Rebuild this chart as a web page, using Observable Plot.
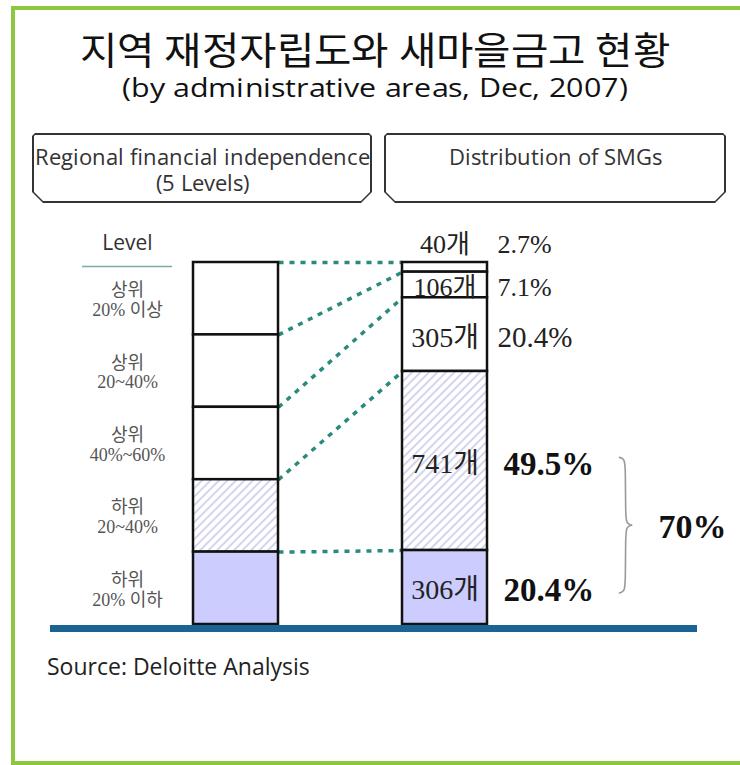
<!DOCTYPE html>
<html>
<head>
<meta charset="utf-8">
<script src="https://cdn.jsdelivr.net/npm/d3@7"></script>
<script src="https://cdn.jsdelivr.net/npm/@observablehq/plot@0.6"></script>
<style>
  @font-face { font-family: "TitleKR";
    src: local("Noto Sans CJK KR Regular"), local("NotoSansCJKkr-Regular"), local("Noto Sans CJK KR");
    ascent-override: 90%; descent-override: 15%; line-gap-override: 0%; }
  @font-face { font-family: "SubSans";
    src: local("Open Sans Regular"), local("OpenSans-Regular"), local("Open Sans");
    ascent-override: 85%; descent-override: 20%; line-gap-override: 0%; }
  html, body { margin: 0; padding: 0; background: #fff; }
  #page { position: relative; width: 740px; height: 765px; overflow: hidden; background: #fff;
          font-family: "Open Sans", "Noto Sans", sans-serif; }
  #frame { position: absolute; left: 11px; top: 6px; width: 800px; height: 751px;
           border: 4px solid #8dc63f; }
  .ttl { position: absolute; left: 0; width: 750px; text-align: center; white-space: nowrap; color: #111; }
  #t1 { top: 31px; font: 400 38px/38px "TitleKR", "Noto Sans CJK KR", sans-serif; transform: scaleX(1.07); }
  #t2 { top: 76px; font: 400 26px/26px "SubSans", "Open Sans", sans-serif; transform: scaleX(1.17); }
  .hbox { position: absolute; top: 133px; height: 70px; background: #333;
          clip-path: polygon(3px 0, calc(100% - 3px) 0, 100% 3px, 100% calc(100% - 11px), calc(100% - 11px) 100%, 11px 100%, 0 calc(100% - 11px), 0 3px); }
  .hbox .in { position: absolute; left: 1.6px; top: 1.6px; right: 1.6px; bottom: 1.6px; background: #fff;
          clip-path: polygon(2px 0, calc(100% - 2px) 0, 100% 2px, 100% calc(100% - 10px), calc(100% - 10px) 100%, 10px 100%, 0 calc(100% - 10px), 0 2px);
          text-align: center; font: 400 22px/26px "SubSans", "Open Sans", sans-serif; color: #333; padding-top: 10px; box-sizing: border-box; white-space: nowrap; }
  #chart { position: absolute; left: 0; top: 220px; }
  #src { position: absolute; left: 47px; top: 652px; font: 400 23px/28px "Open Sans", sans-serif; color: #222; white-space: nowrap; }
</style>
</head>
<body>
<div id="page">
  <div id="frame"></div>
  <div class="ttl" id="t1"></div>
  <div class="ttl" id="t2"></div>
  <div class="hbox" id="hL" style="left:32px;width:340px;"><div class="in"></div></div>
  <div class="hbox" id="hR" style="left:384px;width:342px;"><div class="in"></div></div>
  <div id="chart"></div>
  <div id="src"></div>
</div>
<script>
// ---------- data ----------
const titleText = "지역 재정자립도와 새마을금고 현황";
const subtitleText = "(by administrative areas, Dec, 2007)";
const leftHeader = ["Regional financial independence", "(5 Levels)"];
const rightHeader = ["Distribution of SMGs"];
const levelHeader = "Level";
const levels = ["상위\n20% 이상", "상위\n20~40%", "상위\n40%~60%", "하위\n20~40%", "하위\n20% 이하"];
const counts = [40, 106, 305, 741, 306];
const percents = [2.7, 7.1, 20.4, 49.5, 20.4];
const unit = "개";
const sourceText = "Source: Deloitte Analysis";

// ---------- html text ----------
document.getElementById("t1").textContent = titleText;
document.getElementById("t2").textContent = subtitleText;
document.querySelector("#hL .in").innerHTML = leftHeader.join("<br>");
document.querySelector("#hR .in").innerHTML = rightHeader.join("<br>");
document.getElementById("src").textContent = sourceText;

// ---------- derived ----------
const n = levels.length;
const total = d3.sum(counts);
const cum = [0, ...d3.cumsum(counts)];
const leftSegs = levels.map((label, i) => ({label, i, top: i / n, bottom: (i + 1) / n}));
const rightSegs = counts.map((c, i) => ({count: c, pct: percents[i], i, top: cum[i] / total, bottom: cum[i + 1] / total}));
const links = d3.range(n).map(i => ({from: i / n, to: cum[i] / total}));
const mid = d => (d.top + d.bottom) / 2;
const thin = d => d.bottom - d.top < 0.05;
const small = d => d.bottom - d.top < 0.1;
const emph = d => d.i >= 3; // lower two levels
const fillOf = i => i === 3 ? "url(#hatch)" : i === 4 ? "#ccccff" : "#ffffff";

// layout (pixels)
const L = {levelX: 127, leftBar: [193, 278], rightBar: [402, 487], pctX: 497, braceX: 619, sumX: 692,
           baseline: [50, 697], levelRule: [82, 172]};
const serif = "'Liberation Serif','Noto Sans CJK KR',serif";
const sans = "'Open Sans','Noto Sans',sans-serif";

// brace around the lower two shares
const bTop = mid(rightSegs[3]) - 0.01, bBot = mid(rightSegs[4]) + 0.015, bMid = (bTop + bBot) / 2;
const bx = L.braceX;
const brace = [
  {p: 0, x: bx, y: bTop}, {p: 0, x: bx + 5, y: bTop + 0.004}, {p: 0, x: bx + 6, y: bTop + 0.03},
  {p: 0, x: bx + 6, y: bMid - 0.03}, {p: 0, x: bx + 7, y: bMid - 0.004}, {p: 0, x: bx + 12, y: bMid},
  {p: 1, x: bx + 12, y: bMid}, {p: 1, x: bx + 7, y: bMid + 0.004}, {p: 1, x: bx + 6, y: bMid + 0.03},
  {p: 1, x: bx + 6, y: bBot - 0.03}, {p: 1, x: bx + 5, y: bBot - 0.004}, {p: 1, x: bx, y: bBot}
];
const lowerSum = percents[3] + percents[4];

const svg = Plot.plot({
  width: 740, height: 420,
  marginTop: 0, marginBottom: 0, marginLeft: 0, marginRight: 0,
  x: {type: "linear", domain: [0, 740], range: [0, 740], axis: null},
  y: {type: "linear", domain: [0, 1], range: [42, 404], axis: null},
  color: {type: "identity"},
  style: {background: "transparent"},
  marks: [
    // connectors
    Plot.link(links, {x1: L.leftBar[1], x2: L.rightBar[0], y1: "from", y2: "to",
      stroke: "#2a8a7c", strokeWidth: 3.5, strokeDasharray: "5,6"}),
    // left bar (levels)
    Plot.rect(leftSegs, {x1: L.leftBar[0], x2: L.leftBar[1], y1: "top", y2: "bottom",
      fill: d => fillOf(d.i), stroke: "#111", strokeWidth: 2.5}),
    // right bar (SMG distribution)
    Plot.rect(rightSegs, {x1: L.rightBar[0], x2: L.rightBar[1], y1: "top", y2: "bottom",
      fill: d => fillOf(d.i), stroke: "#111", strokeWidth: 2.5}),
    // baseline
    Plot.ruleY([1], {x1: L.baseline[0], x2: L.baseline[1], stroke: "#1b6393", strokeWidth: 7, dy: 4}),
    // level header
    Plot.text([levelHeader], {x: L.levelX, y: 0, dy: -19, text: d => d, fontSize: 21, fontFamily: sans, fill: "#333"}),
    Plot.ruleY([0], {x1: L.levelRule[0], x2: L.levelRule[1], dy: 4, stroke: "#7fa9a9", strokeWidth: 1.5}),
    // level labels
    Plot.text(leftSegs, {x: L.levelX, y: mid, dy: 1, text: "label", fontSize: 18, lineHeight: 1.1,
      fill: "#555", fontFamily: serif}),
    // count labels
    Plot.text(rightSegs.filter(thin), {x: (L.rightBar[0] + L.rightBar[1]) / 2, y: "top", dy: -18,
      text: d => d.count + unit, fontSize: 26, fontFamily: serif, fill: "#222"}),
    Plot.text(rightSegs.filter(d => !thin(d)), {x: (L.rightBar[0] + L.rightBar[1]) / 2, y: mid, dy: 3,
      text: d => d.count + unit, fontSize: d => small(d) ? 26 : 28, fontFamily: serif, fill: "#222"}),
    // percent labels
    Plot.text(rightSegs.filter(thin), {x: L.pctX, y: "top", dy: -18, textAnchor: "start",
      text: d => d.pct.toFixed(1) + "%", fontSize: 26, fontFamily: serif, fill: "#222"}),
    Plot.text(rightSegs.filter(d => !thin(d) && !emph(d)), {x: L.pctX, y: mid, dy: 3, textAnchor: "start",
      text: d => d.pct.toFixed(1) + "%", fontSize: d => small(d) ? 26 : 29, fontFamily: serif, fill: "#222"}),
    Plot.text(rightSegs.filter(emph), {x: L.pctX, dx: 6, y: mid, dy: 3, textAnchor: "start",
      text: d => d.pct.toFixed(1) + "%", fontSize: 33, fontWeight: "bold", fontFamily: serif, fill: "#111"}),
    // brace + sum
    Plot.line(brace, {x: "x", y: "y", z: "p", curve: "basis", stroke: "#999", strokeWidth: 1.6}),
    Plot.text([lowerSum], {x: L.sumX, y: bMid, dy: 2, text: d => Math.round(d) + "%",
      fontSize: 34, fontWeight: "bold", fontFamily: serif, fill: "#111"})
  ]
});

// hatch pattern definition
const defs = d3.select(svg).insert("defs", ":first-child");
const pat = defs.append("pattern").attr("id", "hatch").attr("patternUnits", "userSpaceOnUse")
  .attr("width", 6).attr("height", 6).attr("patternTransform", "rotate(45)");
pat.append("rect").attr("width", 6).attr("height", 6).attr("fill", "#ffffff");
pat.append("line").attr("x1", 3).attr("y1", 0).attr("x2", 3).attr("y2", 6)
  .attr("stroke", "#b8b8e4").attr("stroke-width", 1.2);

document.getElementById("chart").appendChild(svg);
</script>
</body>
</html>
